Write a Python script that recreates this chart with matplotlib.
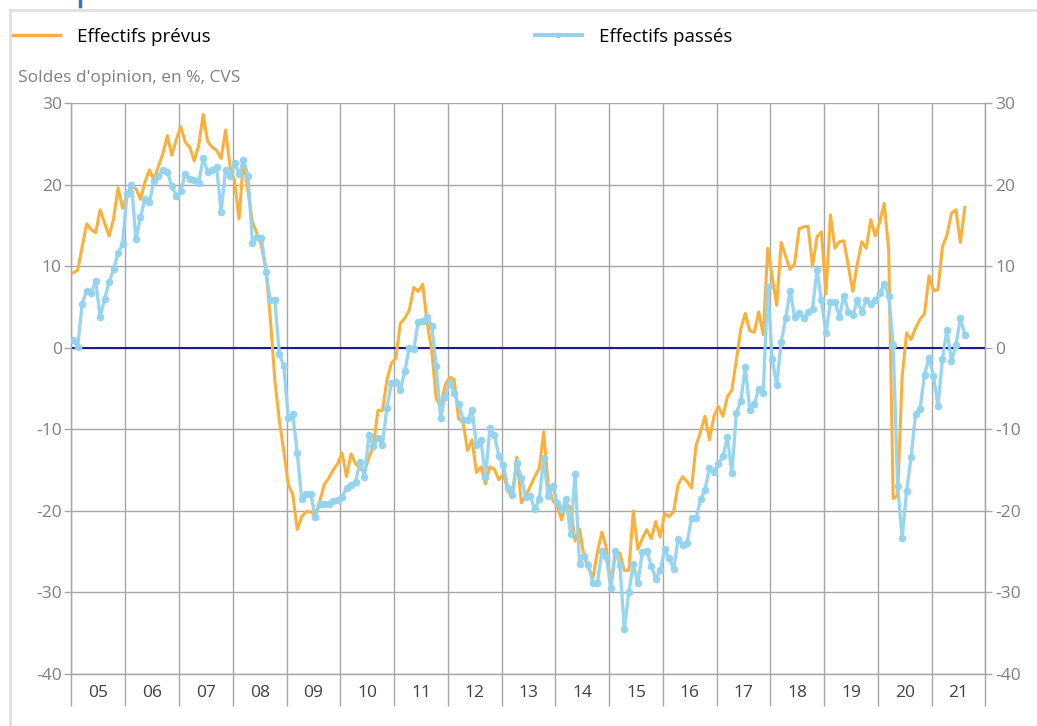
import matplotlib.pyplot as plt
from matplotlib.lines import Line2D

plt.rcParams['font.family'] = ['Open Sans', 'DejaVu Sans']

# =================================================================
# DATA (monthly, Jan 2005 -> Aug 2021)
# =================================================================
start_year = 2005
year_labels = ['05', '06', '07', '08', '09', '10', '11', '12', '13',
               '14', '15', '16', '17', '18', '19', '20', '21']

label_prevus = 'Effectifs prévus'
label_passes = 'Effectifs passés'
y_title = "Soldes d'opinion, en %, CVS"
y_ticks = [-40, -30, -20, -10, 0, 10, 20, 30]

# Effectifs prévus (orange)
prevus = [
    9.2, 9.5, 12.4, 15.2, 14.5, 14.1, 16.9, 15.3, 13.7, 15.8, 19.6, 17.1,        # 2005
    18.7, 19.9, 19.5, 18.2, 20.3, 21.8, 20.6, 22.2, 23.8, 26.0, 23.6, 25.5,      # 2006
    27.1, 25.2, 24.6, 22.9, 24.8, 28.6, 25.3, 24.6, 24.2, 23.2, 26.7, 22.2,      # 2007
    20.5, 15.8, 23.1, 19.2, 15.4, 14.0, 12.5, 9.7, 3.5, -4.0, -8.9, -12.7,       # 2008
    -16.8, -18.0, -22.3, -20.7, -20.1, -20.1, -20.5, -18.9, -16.8, -16.0, -15.0, -14.2,  # 2009
    -12.9, -15.8, -13.0, -14.2, -14.8, -15.2, -13.5, -12.0, -7.7, -7.7, -4.0, -1.9,      # 2010
    -1.3, 3.0, 3.6, 4.6, 7.4, 6.9, 7.8, 3.0, -0.3, -6.2, -7.2, -4.6,             # 2011
    -3.6, -3.9, -8.7, -9.1, -12.6, -11.3, -15.3, -14.6, -16.7, -14.6, -14.9, -16.2,      # 2012
    -15.5, -17.5, -18.3, -13.4, -19.0, -18.2, -17.0, -15.8, -14.8, -10.3, -16.8, -18.7,  # 2013
    -19.4, -21.1, -19.1, -19.6, -23.7, -22.2, -25.6, -27.0, -28.2, -25.0, -22.6, -24.6,  # 2014
    -29.2, -25.0, -25.2, -27.3, -27.3, -20.0, -24.7, -23.4, -22.3, -23.4, -21.3, -23.2,  # 2015
    -20.3, -20.7, -20.1, -16.8, -15.8, -16.4, -17.2, -12.0, -10.3, -8.4, -11.3, -8.4,    # 2016
    -7.2, -8.4, -6.0, -5.2, -1.5, 2.3, 4.2, 2.1, 1.9, 4.4, 1.6, 12.2,            # 2017
    8.7, 5.2, 12.9, 11.2, 9.6, 10.3, 14.6, 14.8, 14.9, 10.0, 13.6, 14.2,         # 2018
    6.6, 16.3, 12.2, 13.0, 13.1, 10.0, 6.9, 10.3, 13.0, 12.2, 15.7, 13.7,        # 2019
    15.4, 17.7, 12.0, -18.5, -18.1, -3.6, 1.8, 1.0, 2.4, 3.5, 4.2, 8.8,          # 2020
    7.0, 7.1, 12.4, 13.8, 16.5, 16.9, 12.9, 17.2,                                # 2021
]

# Effectifs passés (light blue, with dots)
passes = [
    0.9, 0.1, 5.4, 7.0, 6.7, 8.2, 3.8, 6.0, 8.0, 9.6, 11.6, 12.7,                # 2005
    18.9, 20.0, 13.3, 16.0, 18.2, 17.9, 20.4, 21.0, 21.8, 21.6, 19.8, 18.6,      # 2006
    19.2, 21.3, 20.7, 20.6, 20.2, 23.2, 21.6, 21.8, 22.2, 16.7, 21.8, 21.0,      # 2007
    22.6, 21.3, 23.0, 21.1, 12.9, 13.6, 13.5, 9.3, 5.8, 5.8, -0.8, -2.2,         # 2008
    -8.6, -8.1, -12.9, -18.6, -17.9, -17.9, -20.7, -19.2, -19.2, -19.2, -18.8, -18.7,    # 2009
    -18.3, -17.2, -16.8, -16.5, -14.0, -15.8, -10.7, -12.1, -11.1, -11.9, -7.4, -4.3,    # 2010
    -4.2, -5.2, -2.9, 0.0, -0.2, 3.2, 3.3, 3.8, 2.7, -2.2, -8.6, -6.0,           # 2011
    -4.3, -5.5, -6.9, -8.8, -8.9, -7.6, -11.9, -11.3, -15.8, -9.9, -10.7, -13.3,         # 2012
    -14.4, -17.2, -18.0, -14.1, -16.0, -18.3, -18.2, -19.8, -18.6, -13.5, -18.2, -16.9,  # 2013
    -19.0, -19.8, -18.6, -22.8, -15.5, -26.5, -25.5, -26.6, -28.9, -28.8, -24.9, -25.7,  # 2014
    -29.5, -24.9, -26.6, -34.5, -30.0, -26.5, -28.9, -25.1, -24.9, -26.7, -28.3, -27.3,  # 2015
    -24.7, -25.8, -27.1, -23.5, -24.2, -23.9, -20.9, -20.9, -18.6, -17.4, -14.7, -15.2,  # 2016
    -14.2, -13.3, -11.0, -15.4, -8.0, -6.5, -2.4, -7.6, -6.9, -5.1, -5.5, 7.4,   # 2017
    -1.4, -4.6, 0.7, 3.6, 7.0, 3.8, 4.3, 3.6, 4.4, 4.8, 9.5, 5.8,                # 2018
    1.8, 5.6, 5.6, 3.8, 6.4, 4.4, 4.0, 5.8, 4.4, 5.8, 5.4, 5.8,                  # 2019
    6.7, 7.8, 6.4, 0.3, -17.0, -23.3, -17.6, -13.4, -8.1, -7.5, -3.3, -1.2,      # 2020
    -3.5, -7.1, -1.4, 2.2, -1.6, 0.3, 3.6, 1.6,                                  # 2021
]

# month positions as fractional years
x_months = [start_year + (i + 0.4) / 12 for i in range(len(prevus))]

ORANGE = '#FBB03B'
BLUE = '#94D3EE'
GRID = '#A6A6A6'

# =================================================================
# PLOT
# =================================================================
fig = plt.figure(figsize=(10.37, 7.26), dpi=100)
ax = fig.add_axes([0.0689, 0.0716, 0.8814, 0.7865])

ax.axhline(0, color='#1C1C8C', lw=1.5, zorder=2)
ax.plot(x_months, prevus, color=ORANGE, lw=2.2, zorder=3)
ax.plot(x_months, passes, color=BLUE, lw=2.4, marker='o', ms=4.5,
        alpha=0.95, zorder=4)

n_years = len(year_labels)
ax.set_xlim(start_year, start_year + n_years)
ax.set_ylim(-40, 30)
ax.set_yticks(y_ticks)
ax.set_yticklabels([str(v) for v in y_ticks])
ax.set_xticks([start_year + i + 0.5 for i in range(n_years)])
ax.set_xticklabels(year_labels)
ax.set_xticks([start_year + i for i in range(n_years + 1)], minor=True)

ax.grid(True, axis='y', which='major', color=GRID, lw=1.0, zorder=1)
ax.grid(True, axis='x', which='minor', color=GRID, lw=1.0, zorder=1)

for side in ['left', 'right', 'bottom']:
    ax.spines[side].set_color(GRID)
    ax.spines[side].set_linewidth(1.0)
ax.spines['top'].set_visible(False)

ax.tick_params(axis='x', which='major', length=0, pad=8, labelsize=12.5,
               labelcolor='#404040')
ax.tick_params(axis='x', which='minor', length=23, width=1.0, color=GRID,
               direction='out')
ax.tick_params(axis='y', which='major', length=5, width=1.0, color=GRID,
               left=True, right=True, labelleft=True, labelright=True,
               labelsize=12.5, labelcolor='#7F7F7F', pad=2)

# legend
handles = [Line2D([], [], color=ORANGE, lw=2.5),
           Line2D([], [], color=BLUE, lw=3, marker='o', ms=3)]
fig.legend(handles, [label_prevus, label_passes], loc='center left',
           bbox_to_anchor=(0.0, 0.949), ncol=2, frameon=False,
           fontsize=13.5, handlelength=2.5, handletextpad=0.9,
           columnspacing=17.3, borderpad=0.2)

fig.text(18 / 1037, 1 - 78 / 726, y_title, fontsize=12.5, color='#7F7F7F',
         ha='left', va='center')

# outer frame and cut-off title mark
fig.add_artist(Line2D([10 / 1037, 1], [1 - 10 / 726, 1 - 10 / 726],
                      color='#E0E0E0', lw=2, transform=fig.transFigure))
fig.add_artist(Line2D([10 / 1037, 10 / 1037], [0, 1 - 10 / 726],
                      color='#E0E0E0', lw=2, transform=fig.transFigure))
fig.add_artist(Line2D([80 / 1037, 80 / 1037], [1, 1 - 6 / 726],
                      color='#3A6FD0', lw=2.5, transform=fig.transFigure))

fig.savefig('out.png', dpi=100)
